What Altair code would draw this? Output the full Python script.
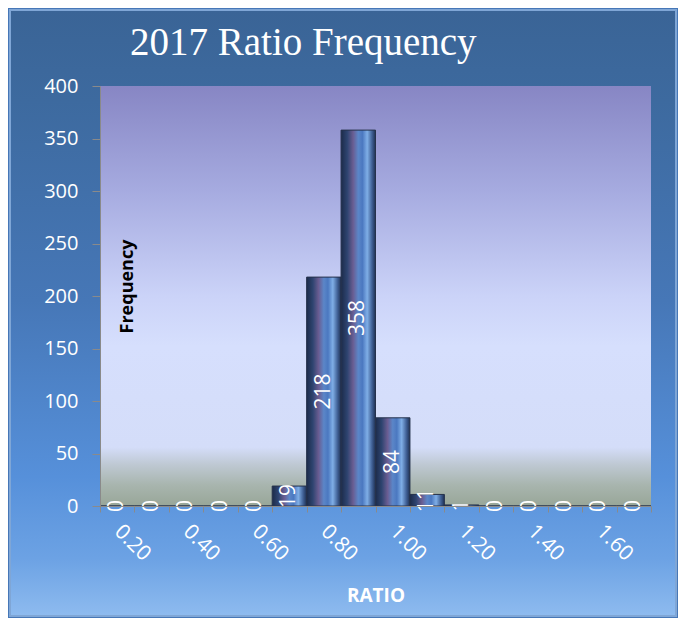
import altair as alt
import pandas as pd

# ---- data ----
categories = ["0.20", "0.30", "0.40", "0.50", "0.60", "0.70", "0.80", "0.90",
              "1.00", "1.10", "1.20", "1.30", "1.40", "1.50", "1.60", "1.70"]
counts = [0, 0, 0, 0, 0, 19, 218, 358, 84, 11, 1, 0, 0, 0, 0, 0]
shown_labels = ["0.20", "0.40", "0.60", "0.80", "1.00", "1.20", "1.40", "1.60"]
y_ticks = [0, 50, 100, 150, 200, 250, 300, 350, 400]

df = pd.DataFrame({"ratio": categories, "count": counts})
one = pd.DataFrame({"k": [0]})

W, H = 551, 420
PAD = {"left": 92, "top": 78, "right": 27, "bottom": 112}

def grad(stops, horizontal=False):
    return alt.LinearGradient(
        gradient="linear",
        stops=[alt.GradientStop(color=c, offset=o) for o, c in stops],
        x1=0, y1=0, x2=1 if horizontal else 0, y2=0 if horizontal else 1,
    )

outer_bg = alt.Chart(one).mark_rect(
    fill=grad([(0, "#3A6496"), (0.15, "#3D6A9F"), (0.48, "#4677B7"),
               (0.77, "#5690DA"), (0.905, "#6CA2E4"), (1, "#8EBBEF")]),
    stroke="#7FA6D6", strokeWidth=2,
).encode(
    x=alt.value(-PAD["left"] + 2), x2=alt.value(W + PAD["right"] - 2),
    y=alt.value(-PAD["top"] + 2), y2=alt.value(H + PAD["bottom"] - 2),
)

plot_bg = alt.Chart(one).mark_rect(
    fill=grad([(0, "#8786C4"), (0.25, "#A6ABE0"), (0.5, "#CBD3F8"),
               (0.62, "#D6DFFD"), (0.86, "#D4DDF9"), (0.9, "#BFC9D4"),
               (0.95, "#A8B5AE"), (1, "#98A698")]),
).encode(x=alt.value(0), x2=alt.value(W), y=alt.value(0), y2=alt.value(H))

label_js = "[" + ",".join("'" + s + "'" for s in shown_labels) + "]"

x_enc = alt.X(
    "ratio:N", sort=None,
    scale=alt.Scale(paddingInner=0, paddingOuter=0),
    axis=alt.Axis(
        labelAngle=45, labelAlign="left", labelBaseline="middle",
        labelPadding=16, tickSize=6, tickBand="extent",
        labelExpr="indexof(" + label_js + ", datum.label) >= 0 ? datum.label : ''",
        labelFont="Open Sans", labelFontSize=21, labelColor="white",
        labelOverlap=False,
        domainColor="#8a8a8a", tickColor="#8a8a8a",
        title="RATIO", titleFont="Open Sans", titleFontSize=19,
        titleFontWeight="bold", titleColor="white",
        titleY=89, titleBaseline="middle",
        zindex=1,
    ),
)

y_enc = alt.Y(
    "count:Q",
    scale=alt.Scale(domain=[0, 400], nice=False),
    axis=alt.Axis(
        values=y_ticks, grid=False,
        labelFont="Open Sans", labelFontSize=20, labelColor="white",
        labelPadding=14, tickSize=8,
        domainColor="#8a8a8a", tickColor="#8a8a8a",
        title="Frequency", titleFont="Open Sans", titleFontSize=18,
        titleFontWeight="bold", titleColor="black",
        titleX=27, titleY=200, titleAngle=270,
        titleAlign="center", titleBaseline="middle",
        zindex=1,
    ),
)

bars = alt.Chart(df).mark_bar(
    fill=grad([(0, "#1C2B4A"), (0.18, "#2E4470"), (0.35, "#6A5D92"),
               (0.5, "#5B86C8"), (0.62, "#4B78C0"), (0.76, "#7FAEE6"),
               (0.9, "#3F5F94"), (1, "#1E3052")], horizontal=True),
    stroke="#26324C", strokeWidth=1,
).encode(x=x_enc, y=y_enc)

labels = alt.Chart(df).transform_calculate(
    mid="datum['count'] / 2"
).mark_text(
    angle=270, align="center", baseline="middle",
    font="Open Sans", fontSize=21, color="white",
).encode(
    x=alt.X("ratio:N", sort=None),
    y=alt.Y("mid:Q"),
    text=alt.Text("count:Q"),
)

chart = alt.layer(outer_bg, plot_bg, bars, labels).properties(
    width=W, height=H,
    padding=PAD,
    autosize=alt.AutoSizeParams(type="none"),
    background="#4677B7",
    title=alt.TitleParams(
        text="2017 Ratio Frequency", font="Liberation Serif", fontSize=39,
        fontWeight="normal", color="white", anchor="start", frame="group",
        dx=30, dy=107, offset=22, baseline="alphabetic", zindex=1,
    ),
).configure_view(stroke=None)

chart.save("out.html", embed_options={"renderer": "svg", "actions": False})
